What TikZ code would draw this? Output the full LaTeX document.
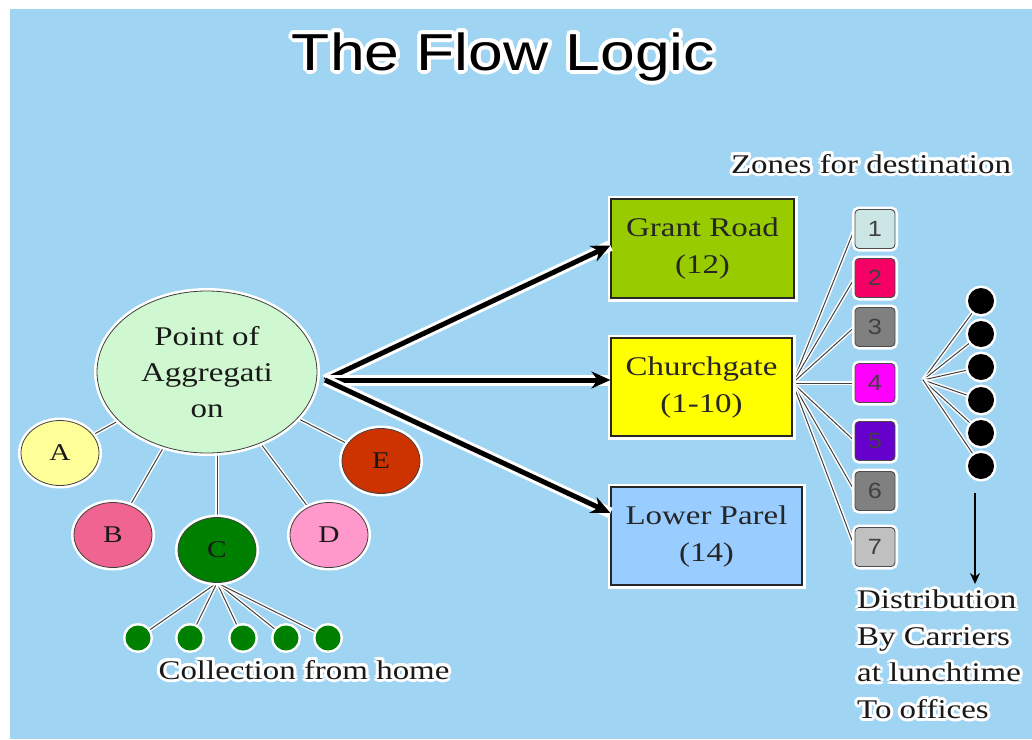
\documentclass[tikz,border=0pt]{standalone}
\usepackage{fontspec}
\setmainfont{Liberation Serif}
\newfontfamily\titlefont[FakeStretch=1.2]{Liberation Sans}
\newfontfamily\wserif[FakeStretch=1.22]{Liberation Serif}
\newfontfamily\digitfont[FakeStretch=1.15]{Liberation Sans}
\usetikzlibrary{arrows.meta,calc,shapes.geometric}
\pgfdeclarelayer{bg}
\pgfdeclarelayer{edges}
\pgfsetlayers{bg,edges,main}
\definecolor{bgblue}{RGB}{160,212,243}
\definecolor{aggfill}{RGB}{208,248,208}
\definecolor{colA}{RGB}{255,255,153}
\definecolor{colB}{RGB}{240,100,145}
\definecolor{colC}{RGB}{0,128,0}
\definecolor{colD}{RGB}{255,153,204}
\definecolor{colE}{RGB}{204,51,0}
\definecolor{grfill}{RGB}{153,204,0}
\definecolor{cgfill}{RGB}{255,255,0}
\definecolor{lpfill}{RGB}{153,204,255}
\definecolor{z1}{RGB}{204,230,230}
\definecolor{z2}{RGB}{245,0,100}
\definecolor{z3}{RGB}{128,128,128}
\definecolor{z4}{RGB}{255,0,255}
\definecolor{z5}{RGB}{102,0,204}
\definecolor{z6}{RGB}{128,128,128}
\definecolor{z7}{RGB}{192,192,192}
\tikzset{
  glow/.style={preaction={draw=white,line width=#1}},
  glow/.default=6pt,
  oval/.style={ellipse, draw=black!75, line width=0.8pt, glow=6pt, inner sep=0pt,
    minimum width=78pt, minimum height=65pt,
    font=\wserif\fontsize{24}{26}\selectfont, text=black!90},
  box/.style={rectangle, draw=black!85, line width=1.2pt, glow=7pt, inner sep=0pt,
    align=center, font=\wserif\fontsize{27}{37}\selectfont, text=black!85},
  zone/.style={rectangle, rounded corners=4pt, draw=black!70, line width=0.9pt, glow=6pt,
    inner sep=0pt, minimum width=40pt, minimum height=39pt,
    font=\digitfont\fontsize{22}{22}\selectfont, text=black!75},
  dot/.style={circle, inner sep=0pt, minimum size=25pt, glow=5pt},
  link/.style={draw=black!75, line width=1pt, preaction={draw=white, line width=4pt}},
  bigarrow/.style={draw=black, line width=5pt,
    preaction={draw=white, line width=11pt, arrows=-},
    -{Stealth[length=19pt,width=17pt]}},
  plaintext/.style={font=\wserif\fontsize{27}{36.5}\selectfont, text=black!90, inner sep=0pt},
}
\newcommand\halonode[5]{%
  \foreach \hang in {0,22.5,...,337.5}{\node[#4,text=white] at ($(#3)+(\hang:#2)$) {#5};}
  \node[#4] (#1) at (#3) {#5};}
\begin{document}
\begin{tikzpicture}[x=1pt,y=-1pt]
\useasboundingbox (0,0) rectangle (1032,739);
\begin{pgfonlayer}{bg}
\fill[white] (0,0) rectangle (1032,739);
\fill[bgblue] (10,9) rectangle (1032,739);
\end{pgfonlayer}

% title
\halonode{title}{4}{503.5,70}{anchor=base, inner sep=0pt, font=\titlefont\fontsize{52}{60}\selectfont}{The Flow Logic}

% aggregation
\node[oval, minimum width=220pt, minimum height=162pt, fill=aggfill, align=center,
  font=\wserif\fontsize{27}{36}\selectfont] (agg) at (207,372) {Point of\\Aggregati\\on};
\node[oval, fill=colA] (A) at (60,453) {A};
\node[oval, fill=colB] (B) at (113,535) {B};
\node[oval, fill=colC] (C) at (217,550) {C};
\node[oval, fill=colD] (D) at (329,535) {D};
\node[oval, fill=colE] (E) at (381,461) {E};
\foreach \i/\x in {1/138,2/190,3/243,4/286,5/328}
  \node[dot, fill=colC] (g\i) at (\x,638) {};
\halonode{coll}{3}{304,679}{plaintext, anchor=base}{Collection from home}

% destination boxes
\node[box, minimum width=183pt, minimum height=99pt, fill=grfill] (gr) at (702.5,248.5) {Grant Road\\(12)};
\node[box, minimum width=181pt, minimum height=98pt, fill=cgfill] (cg) at (701.5,387) {Churchgate\\(1-10)};
\node[box, minimum width=191pt, minimum height=98pt, fill=lpfill] (lp) at (706.5,536) {Lower Parel\\(14)};

% zones
\halonode{zl}{3}{871,173}{plaintext, anchor=base}{Zones for destination}
\foreach \i/\y in {1/229,2/278,3/327,4/383,5/441,6/491,7/547}
  \node[zone, fill=z\i] (z\i) at (875,\y) {\i};

% carriers
\foreach \i/\y in {1/301,2/334,3/367,4/400,5/433,6/466}
  \node[dot, fill=black, minimum size=26pt] (k\i) at (981,\y) {};
\coordinate (hub) at (325,380);
\coordinate (fan) at (923,380);
\coordinate (arrtop) at (975,493);
\halonode{dist}{3}{857,590}{plaintext, anchor=north west, align=left}{Distribution\\By Carriers\\at lunchtime\\To offices}

\begin{pgfonlayer}{edges}
\draw[link] (agg) -- (A);
\draw[link] (agg) -- (B);
\draw[link] (C.north) -- (C.north |- agg.south);
\draw[link] (agg) -- (D);
\draw[link] (agg) -- (E);
\foreach \i in {1,...,5} \draw[link] (C.south) -- (g\i);
\foreach \i in {1,...,7} \draw[link] ([yshift=4pt]cg.east) -- (z\i.west);
\foreach \i in {1,...,6} \draw[link] (fan) -- (k\i);
\end{pgfonlayer}

\draw[bigarrow] (hub) -- ([yshift=3pt]gr.west);
\draw[bigarrow] (hub) -- ([yshift=7pt]cg.west);
\draw[bigarrow] (hub) -- ([yshift=23pt]lp.west);
\draw[line width=1.2pt, -{Stealth[length=11pt,width=10pt]}] (arrtop) -- ($(arrtop |- dist.north)+(0,-6)$);
\end{tikzpicture}
\end{document}
